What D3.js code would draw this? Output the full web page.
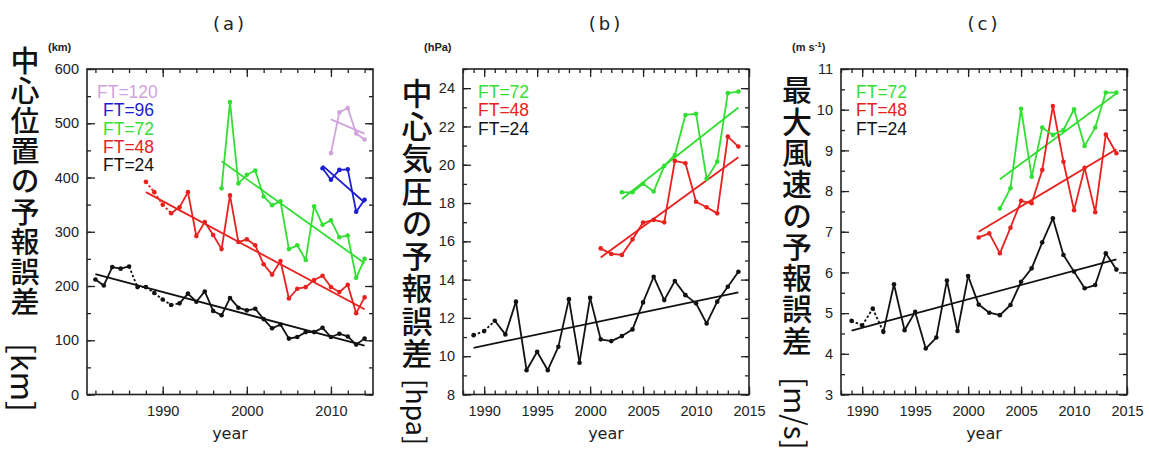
<!DOCTYPE html>
<html>
<head>
<meta charset="utf-8">
<script src="https://cdn.jsdelivr.net/npm/d3@7"></script>
<style>
  body { margin: 0; background: #fff; }
  svg { display: block; }
</style>
</head>
<body>
<div id="chart"></div>
<script>
// years shown on the axes
const yearsA = [1982, 1983, 1984, 1985, 1986, 1987, 1988, 1989, 1990, 1991, 1992, 1993, 1994, 1995, 1996, 1997,
    1998, 1999, 2000, 2001, 2002, 2003, 2004, 2005, 2006, 2007, 2008, 2009, 2010, 2011, 2012, 2013, 2014]
const yearsBC = [1989, 1990, 1991, 1992, 1993, 1994, 1995, 1996, 1997, 1998, 1999, 2000, 2001,
    2002, 2003, 2004, 2005, 2006, 2007, 2008, 2009, 2010, 2011, 2012, 2013, 2014]

// (a) track error [km], each series ends in 2014
const trackFT24 = [212, 201, 235, 232, 236, 198, 198, 187, 175, 165, 168, 186, 171, 190, 154, 146, 178,
    160, 155, 158, 139, 122, 129, 103, 106, 115, 115, 123, 106, 112, 107, 92, 103]
const trackFT48 = [392, 373, 350, 334, 345, 373, 292, 318, 294, 268, 367, 281, 286, 275, 240, 221, 246,
    177, 195, 198, 211, 219, 198, 189, 202, 150, 179]
const trackFT72 = [380, 539, 389, 405, 413, 365, 349, 356, 268, 275, 248, 347, 313, 321, 290, 293, 215, 250]
const trackFT96 = [417, 396, 414, 415, 337, 359]
const trackFT120 = [445, 520, 528, 481, 470]
const trackTrend = {
    24: [[1982, 222], [2014, 90]], 48: [[1988, 373], [2014, 157]], 72: [[1997, 430], [2014, 242]],
    96: [[2009, 422], [2014, 354]], 120: [[2010, 507], [2014, 481]]
}

// (b) central pressure error [hPa]
const presFT24 = [11.10, 11.31, 11.85, 11.14, 12.85, 9.27, 10.23, 9.27, 10.49, 12.98, 9.66, 13.05, 10.88,
    10.79, 11.05, 11.40, 12.81, 14.15, 12.93, 13.93, 13.19, 12.76, 11.71, 12.85, 13.63, 14.41]
const presFT48 = [15.63, 15.34, 15.29, 16.10, 16.98, 17.12, 16.99, 20.20, 20.08, 18.07, 17.78, 17.46, 21.47, 20.95]
const presFT72 = [18.56, 18.56, 19.01, 18.60, 19.94, 20.51, 22.60, 22.66, 19.26, 20.16, 23.74, 23.82]
const presTrend = { 24: [[1989, 10.44], [2014, 13.33]], 48: [[2001, 15.16], [2014, 20.39]], 72: [[2003, 18.21], [2014, 22.99]] }

// (c) maximum wind error [m/s]
const windFT24 = [4.81, 4.70, 5.11, 4.54, 5.71, 4.58, 5.03, 4.13, 4.40, 5.80, 4.56, 5.91, 5.21, 5.01,
    4.95, 5.20, 5.77, 6.10, 6.74, 7.33, 6.43, 6.02, 5.61, 5.69, 6.47, 6.07]
const windFT48 = [6.86, 6.96, 6.47, 7.10, 7.76, 7.70, 8.52, 10.09, 8.72, 7.53, 8.57, 7.48, 9.39, 8.93]
const windFT72 = [7.57, 8.07, 10.02, 8.35, 9.56, 9.38, 9.50, 10.01, 9.11, 9.56, 10.42, 10.42]
const windTrend = { 24: [[1989, 4.57], [2014, 6.32]], 48: [[2001, 7.00], [2014, 9.03]], 72: [[2003, 8.29], [2014, 10.40]] }

// years drawn with a dotted line (older verification)
const dottedA24 = [1986, 1992]
const dottedA48 = [1988, 1991]
const dottedB24 = [1989, 1991]
const dottedC24 = [1989, 1992]

const colors = { 24: "#111111", 48: "#e8211f", 72: "#33de33", 96: "#1c1cd2", 120: "#cfa3dc" }

const W = 1149, H = 450
const svg = d3.select("#chart").append("svg").attr("width", W).attr("height", H)
const tickFont = "'Liberation Sans', Arial, sans-serif"
const cjkFont = "'Noto Sans CJK JP', sans-serif"

function pack(years, values) {
    const ys = years.slice(years.length - values.length)
    return values.map((v, i) => ({ year: ys[i], value: v }))
}

const panels = [
    {
        title: "(a)", unit: "(km)", label: "中心位置の予報誤差", labelUnit: "[km]", left: 87,
        labelX: 25, labelY: 46, labelSize: 29, labelStep: 30.2, unitY: 343, unitSize: 32,
        xDomain: [1981, 2015], xMajor: [1990, 2000, 2010], xMinor: d3.range(1982, 2015, 2),
        yDomain: [0, 600], yMajor: d3.range(0, 601, 100), yMinor: d3.range(0, 601, 50),
        series: [
            { ft: 24, data: pack(yearsA, trackFT24), dotted: dottedA24 },
            { ft: 48, data: pack(yearsA, trackFT48), dotted: dottedA48 },
            { ft: 72, data: pack(yearsA, trackFT72) },
            { ft: 96, data: pack(yearsA, trackFT96) },
            { ft: 120, data: pack(yearsA, trackFT120) }
        ],
        trend: trackTrend, legend: [120, 96, 72, 48, 24], legendX: 97
    },
    {
        title: "(b)", unit: "(hPa)", label: "中心気圧の予報誤差", labelUnit: "[hpa]", left: 463,
        labelX: 417, labelY: 78, labelSize: 31, labelStep: 32.5, unitY: 379, unitSize: 27,
        xDomain: [1988, 2015], xMajor: d3.range(1990, 2016, 5), xMinor: d3.range(1988, 2016, 1),
        yDomain: [8, 25], yMajor: d3.range(8, 25, 2), yMinor: d3.range(8, 26, 1),
        series: [
            { ft: 24, data: pack(yearsBC, presFT24), dotted: dottedB24 },
            { ft: 48, data: pack(yearsBC, presFT48) },
            { ft: 72, data: pack(yearsBC, presFT72) }
        ],
        trend: presTrend, legend: [72, 48, 24], legendX: 478
    },
    {
        title: "(c)", unit: "(m s", label: "最大風速の予報誤差", labelUnit: "[m/s]", left: 841,
        labelX: 797, labelY: 75, labelSize: 30, labelStep: 31.3, unitY: 377, unitSize: 29.5,
        xDomain: [1988, 2015], xMajor: d3.range(1990, 2016, 5), xMinor: d3.range(1988, 2016, 1),
        yDomain: [3, 11], yMajor: d3.range(3, 12, 1), yMinor: d3.range(3, 11.01, 0.5),
        series: [
            { ft: 24, data: pack(yearsBC, windFT24), dotted: dottedC24 },
            { ft: 48, data: pack(yearsBC, windFT48) },
            { ft: 72, data: pack(yearsBC, windFT72) }
        ],
        trend: windTrend, legend: [72, 48, 24], legendX: 856
    }
]

const plotW = 286, plotTop = 69, plotBottom = 394.5

panels.forEach(p => {
    const g = svg.append("g")
    const x = d3.scaleLinear().domain(p.xDomain).range([p.left, p.left + plotW])
    const y = d3.scaleLinear().domain(p.yDomain).range([plotBottom, plotTop])

    // ticks on all four sides, pointing in
    const axisStyle = sel => {
        sel.select(".domain").remove()
        sel.selectAll("line").attr("stroke", "#222").attr("stroke-width", 1.3)
        sel.selectAll("text").attr("fill", "#222").style("font-family", tickFont).style("font-size", "14.5px")
    }
    g.append("g").attr("transform", `translate(0,${plotBottom})`)
        .call(d3.axisBottom(x).tickValues(p.xMajor).tickSize(-8).tickPadding(11).tickFormat(d3.format("d"))).call(axisStyle)
    g.append("g").attr("transform", `translate(0,${plotBottom})`)
        .call(d3.axisBottom(x).tickValues(p.xMinor).tickSize(-4).tickFormat("")).call(axisStyle)
    g.append("g").attr("transform", `translate(0,${plotTop})`)
        .call(d3.axisTop(x).tickValues(p.xMajor).tickSize(-8).tickFormat("")).call(axisStyle)
    g.append("g").attr("transform", `translate(0,${plotTop})`)
        .call(d3.axisTop(x).tickValues(p.xMinor).tickSize(-4).tickFormat("")).call(axisStyle)
    g.append("g").attr("transform", `translate(${p.left},0)`)
        .call(d3.axisLeft(y).tickValues(p.yMajor).tickSize(-8).tickPadding(8).tickFormat(d3.format("d"))).call(axisStyle)
    g.append("g").attr("transform", `translate(${p.left},0)`)
        .call(d3.axisLeft(y).tickValues(p.yMinor).tickSize(-4).tickFormat("")).call(axisStyle)
    g.append("g").attr("transform", `translate(${p.left + plotW},0)`)
        .call(d3.axisRight(y).tickValues(p.yMajor).tickSize(-8).tickFormat("")).call(axisStyle)
    g.append("g").attr("transform", `translate(${p.left + plotW},0)`)
        .call(d3.axisRight(y).tickValues(p.yMinor).tickSize(-4).tickFormat("")).call(axisStyle)

    g.append("rect")
        .attr("x", p.left).attr("y", plotTop)
        .attr("width", plotW).attr("height", plotBottom - plotTop)
        .attr("fill", "none").attr("stroke", "#222").attr("stroke-width", 1.6)

    // trend lines
    Object.keys(p.trend).forEach(ft => {
        g.append("path")
            .datum(p.trend[ft])
            .attr("fill", "none").attr("stroke", colors[ft]).attr("stroke-width", 1.8)
            .attr("d", d3.line().x(d => x(d[0])).y(d => y(d[1])))
    })

    // series: segment by segment so the early years can be dotted
    p.series.forEach(s => {
        const c = colors[s.ft]
        for (let i = 0; i < s.data.length - 1; i++) {
            const a = s.data[i], b = s.data[i + 1]
            const dotted = s.dotted && a.year >= s.dotted[0] && b.year <= s.dotted[1]
            g.append("path")
                .datum([a, b])
                .attr("fill", "none").attr("stroke", c).attr("stroke-width", 1.8)
                .attr("stroke-dasharray", dotted ? "2.5,2" : null)
                .attr("d", d3.line().x(d => x(d.year)).y(d => y(d.value)))
        }
        g.selectAll(null).data(s.data).enter().append("circle")
            .attr("cx", d => x(d.year)).attr("cy", d => y(d.value))
            .attr("r", 2.3).attr("fill", c)
    })

    // legend
    p.legend.forEach((ft, i) => {
        g.append("text")
            .attr("x", p.legendX + (ft === 120 || p.legend.length === 3 ? 0 : 6))
            .attr("y", 98 + i * 18.3)
            .attr("fill", colors[ft])
            .style("font-family", tickFont).style("font-size", "17.5px")
            .text("FT=" + ft)
    })

    const cx = p.left + plotW / 2
    g.append("text").attr("x", cx).attr("y", 30).attr("text-anchor", "middle")
        .style("font-family", "'DejaVu Sans', sans-serif").style("font-size", "18px").style("letter-spacing", "3px")
        .attr("fill", "#222").text(p.title)
    g.append("text").attr("x", cx).attr("y", 439).attr("text-anchor", "middle")
        .style("font-family", "'DejaVu Sans', sans-serif").style("font-size", "16px")
        .attr("fill", "#222").text("year")

    // unit in the corner
    const u = g.append("text").attr("x", p.left - 39).attr("y", 51)
        .style("font-family", tickFont).style("font-size", "11px").style("font-weight", "bold")
        .attr("fill", "#222").text(p.unit)
    if (p.title === "(c)") {
        u.attr("x", p.left - 49)
        u.append("tspan").attr("dy", -4).style("font-size", "8px").text("-1")
        u.append("tspan").attr("dy", 4).text(")")
    }

    // vertical Japanese axis title: upright kanji, then the unit turned sideways
    g.append("text")
        .attr("x", p.labelX).attr("y", p.labelY)
        .style("writing-mode", "vertical-rl")
        .style("letter-spacing", (p.labelStep - p.labelSize) + "px")
        .style("font-family", cjkFont).style("font-weight", 500)
        .style("font-size", p.labelSize + "px")
        .attr("fill", "#111")
        .text(p.label)
    g.append("text")
        .attr("transform", `translate(${p.labelX},${p.unitY}) rotate(90)`)
        .attr("dominant-baseline", "central")
        .style("font-family", cjkFont).style("font-weight", 400)
        .style("font-size", p.unitSize + "px")
        .attr("fill", "#111")
        .text(p.labelUnit)
})
</script>
</body>
</html>
